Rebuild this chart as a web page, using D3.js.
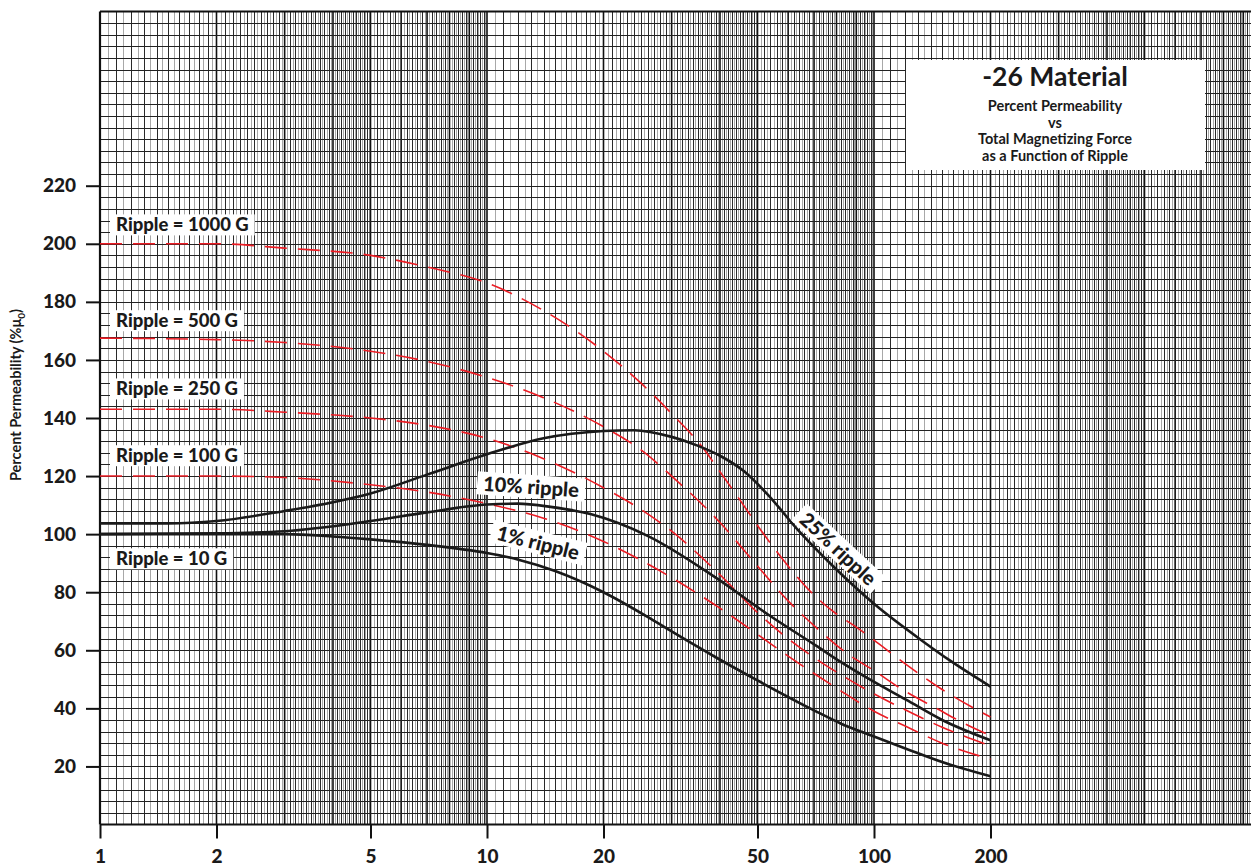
<!DOCTYPE html>
<html>
<head>
<meta charset="utf-8">
<script src="https://cdn.jsdelivr.net/npm/d3@7"></script>
<style>
    html, body { margin: 0; padding: 0; background: #fff; }
    svg { display: block; font-family: Lato, 'Open Sans', sans-serif; }
</style>
</head>
<body>
<svg id="chart"></svg>
<script>
const xTickValues = [1, 2, 5, 10, 20, 50, 100, 200];
const yTickValues = [20, 40, 60, 80, 100, 120, 140, 160, 180, 200, 220];

// constant ripple curves (red dashed)
const r1000H = [1, 2, 3, 5, 7, 10, 14, 20, 25, 30, 36, 40, 46, 50, 60, 70, 80, 90, 100, 120, 150, 200];
const ripple1000G = [200, 200, 198.5, 196, 192, 186.5, 177, 163, 152, 141.5, 130, 121.5, 110, 103, 89, 79, 72.5, 68, 63.5, 55.5, 46.5, 37];
const r500H = [1, 2, 3, 5, 7, 10, 14, 20, 25, 30, 40, 50, 60, 70, 85, 100, 120, 145, 170, 200];
const ripple500G = [167.5, 167, 166, 163, 159.5, 154, 147, 137, 129, 120, 104, 89, 77, 68.5, 59, 53, 46, 40, 35, 30.6];
const r250H = [1, 2, 3, 5, 7, 10, 14, 20, 25, 30, 40, 50, 60, 70, 80, 100, 120, 150, 200];
const ripple250G = [143, 143, 142, 140, 137.5, 133, 126, 116, 108.5, 101, 86, 73, 64, 57.5, 52.5, 45, 39.6, 33.5, 27.1];
const r100H = [1, 2, 3, 5, 7, 10, 14, 20, 25, 30, 40, 50, 60, 70, 80, 100, 120, 150, 200];
const ripple100G = [120, 120, 119.5, 117, 114.5, 110.5, 105.5, 97.5, 91, 85, 74.5, 65.5, 58, 52, 47, 39, 34, 28, 22.5];

// percent ripple curves (black solid)
const pct25H = [1, 1.5, 2, 3, 4, 5, 7, 10, 14, 20, 24, 30, 35, 40, 46, 53, 64, 79, 100, 135, 157, 200];
const pct25 = [103.7, 103.7, 104.5, 108, 111, 114, 120.5, 127.5, 133, 135.5, 135.8, 133.5, 130.5, 127, 121.8, 113.8, 101, 88.5, 76, 62.7, 56.5, 47.5];
const pct10H = [1, 2, 3, 5, 7, 10, 12, 14.6, 18.5, 26, 39, 53, 71, 82, 96, 121, 150, 200];
const pct10 = [100, 100.3, 101, 104.5, 107.5, 110.2, 110.5, 109.4, 106.9, 99.4, 85, 72.5, 61.5, 56, 50.5, 43, 36, 29];
const pct1H = [1, 3, 4, 5, 7, 10, 12, 15, 20, 26, 30, 39, 50, 70, 82, 100, 121, 150, 200];
const pct1 = [100, 100, 99.2, 98.2, 96.3, 93.5, 91.3, 87.3, 80, 71.5, 66.5, 57.6, 49.6, 39.3, 34.8, 30.3, 26.1, 21.5, 16.6];

const rippleLabels = ['Ripple = 1000 G', 'Ripple = 500 G', 'Ripple = 250 G', 'Ripple = 100 G', 'Ripple = 10 G'];
const rippleLabelValues = [206.5, 173.5, 150, 127, 91.5];

const titleText = '-26 Material';
const subtitleLines = ['Percent Permeability', 'vs', 'Total Magnetizing Force', 'as a Function of Ripple'];

const width = 1251;
const height = 868;

const svg = d3.select('#chart')
    .attr('width', width)
    .attr('height', height);

const x = d3.scaleLog()
    .domain([1, 1000])
    .range([100, 1261]);

const y = d3.scaleLinear()
    .domain([0, 280])
    .range([824.5, 11.5]);

const leftX = x(1);
const bottomY = y(0);
const topY = y(280);

// graph paper
const grid = svg.append('g');

const fineLines = [];
const mainLines = [];
const intLines = [];
[1, 10, 100].forEach(dec => {
    for (let k = 100; k < 1000; k += 5) {
        const v = k / 100 * dec;
        if (k % 100 === 0) intLines.push(v);
        else if (k < 500 && k % 10 === 0) mainLines.push(v);
        else if (k >= 500 && k % 20 === 0) mainLines.push(v);
        else if (k < 500 || k % 10 === 0) fineLines.push(v);
    }
});

grid.selectAll('.vfine')
    .data(fineLines.filter(v => x(v) < width))
    .enter().append('line')
    .attr('x1', d => Math.round(x(d)) + 0.5)
    .attr('x2', d => Math.round(x(d)) + 0.5)
    .attr('y1', topY)
    .attr('y2', bottomY)
    .attr('stroke', '#a8a8a8')
    .attr('stroke-width', 1);

grid.selectAll('.vmain')
    .data(mainLines.filter(v => x(v) < width))
    .enter().append('line')
    .attr('x1', d => Math.round(x(d)) + 0.5)
    .attr('x2', d => Math.round(x(d)) + 0.5)
    .attr('y1', topY)
    .attr('y2', bottomY)
    .attr('stroke', '#2a2a2a')
    .attr('stroke-width', 1);

grid.selectAll('.vint')
    .data(intLines.filter(v => x(v) < width && v > 1))
    .enter().append('line')
    .attr('x1', d => x(d))
    .attr('x2', d => x(d))
    .attr('y1', topY)
    .attr('y2', bottomY)
    .attr('stroke', '#111')
    .attr('stroke-width', 1.6);

grid.selectAll('.hline')
    .data(d3.range(4, 280, 4))
    .enter().append('line')
    .attr('x1', leftX)
    .attr('x2', width)
    .attr('y1', d => Math.round(y(d)) + 0.5)
    .attr('y2', d => Math.round(y(d)) + 0.5)
    .attr('stroke', '#222')
    .attr('stroke-width', 1);

// frame
grid.append('line')
    .attr('x1', leftX).attr('x2', width)
    .attr('y1', topY).attr('y2', topY)
    .attr('stroke', '#111').attr('stroke-width', 2);
grid.append('line')
    .attr('x1', leftX).attr('x2', width)
    .attr('y1', bottomY).attr('y2', bottomY)
    .attr('stroke', '#111').attr('stroke-width', 2);
grid.append('line')
    .attr('x1', leftX).attr('x2', leftX)
    .attr('y1', topY).attr('y2', bottomY)
    .attr('stroke', '#111').attr('stroke-width', 2.2);

// axes
const xAxis = svg.append('g')
    .attr('transform', `translate(0,${bottomY})`)
    .call(d3.axisBottom(x).tickValues(xTickValues).tickFormat(d3.format('d')).tickSize(14).tickPadding(11));
xAxis.select('.domain').remove();
xAxis.selectAll('line').attr('stroke', '#111').attr('stroke-width', 2);
xAxis.selectAll('text')
    .style('font-family', 'Lato, sans-serif')
    .style('font-size', '19px')
    .style('font-weight', '900')
    .style('fill', '#1a1a1a');

const yAxis = svg.append('g')
    .attr('transform', `translate(${leftX},0)`)
    .call(d3.axisLeft(y).tickValues(yTickValues).tickSize(14).tickPadding(10));
yAxis.select('.domain').remove();
yAxis.selectAll('line').attr('stroke', '#111').attr('stroke-width', 2);
yAxis.selectAll('text')
    .style('font-family', 'Lato, sans-serif')
    .style('font-size', '19px')
    .style('font-weight', '900')
    .style('fill', '#1a1a1a');

const yLabel = svg.append('text')
    .attr('transform', 'translate(21,395) rotate(-90)')
    .attr('text-anchor', 'middle')
    .style('font-size', '14.5px')
    .style('font-weight', '700')
    .style('fill', '#1a1a1a');
yLabel.append('tspan').text('Percent Permeability (%\u03bc');
yLabel.append('tspan').attr('dy', 4).style('font-size', '10px').text('0');
yLabel.append('tspan').attr('dy', -4).text(')');

// curves
const line = (hs, vs) => d3.line()
    .x((d, i) => x(hs[i]))
    .y(d => y(d))
    .curve(d3.curveMonotoneX)(vs);

const plot = svg.append('g');

[[r1000H, ripple1000G], [r500H, ripple500G], [r250H, ripple250G], [r100H, ripple100G]].forEach(([hs, vals]) => {
    plot.append('path')
        .attr('d', line(hs, vals))
        .attr('fill', 'none')
        .attr('stroke', '#ec1c24')
        .attr('stroke-width', 1.6)
        .attr('stroke-dasharray', '22,11');
});

[[pct25H, pct25], [pct10H, pct10], [pct1H, pct1]].forEach(([hs, vals]) => {
    plot.append('path')
        .attr('d', line(hs, vals))
        .attr('fill', 'none')
        .attr('stroke', '#1a1a1a')
        .attr('stroke-width', 2.6);
});

// labels with white backing
function boxedLabel(text, cx, cy, angle, size, anchor) {
    const g = svg.append('g')
        .attr('transform', `translate(${cx},${cy}) rotate(${angle})`);
    const rect = g.append('rect').attr('fill', '#fff');
    const t = g.append('text')
        .attr('text-anchor', anchor)
        .attr('dy', '0.35em')
        .style('font-size', size + 'px')
        .style('font-weight', '900')
        .style('fill', '#1a1a1a')
        .text(text);
    const bb = t.node().getBBox();
    rect.attr('x', bb.x - 6).attr('y', bb.y + 1)
        .attr('width', bb.width + 12).attr('height', bb.height - 1);
    return g;
}

rippleLabels.forEach((txt, i) => {
    boxedLabel(txt, 116, y(rippleLabelValues[i]), 0, 18.5, 'start');
});

boxedLabel('10% ripple', 531, 487, 4, 20, 'middle');
boxedLabel('1% ripple', 538, 543, 14, 20, 'middle');
boxedLabel('25% ripple', 838, 549, 43, 20, 'middle');

// title box
const title = svg.append('g');
title.append('rect')
    .attr('x', 906).attr('y', 60)
    .attr('width', 299).attr('height', 110)
    .attr('fill', '#fff');
title.append('text')
    .attr('x', 1055).attr('y', 86)
    .attr('text-anchor', 'middle')
    .style('font-size', '26.5px')
    .style('font-weight', '700')
    .style('fill', '#1a1a1a')
    .text(titleText);
title.selectAll('.sub')
    .data(subtitleLines)
    .enter().append('text')
    .attr('x', 1055)
    .attr('y', (d, i) => 111 + i * 16.5)
    .attr('text-anchor', 'middle')
    .style('font-size', '14.5px')
    .style('font-weight', '700')
    .style('fill', '#1a1a1a')
    .text(d => d);
</script>
</body>
</html>
